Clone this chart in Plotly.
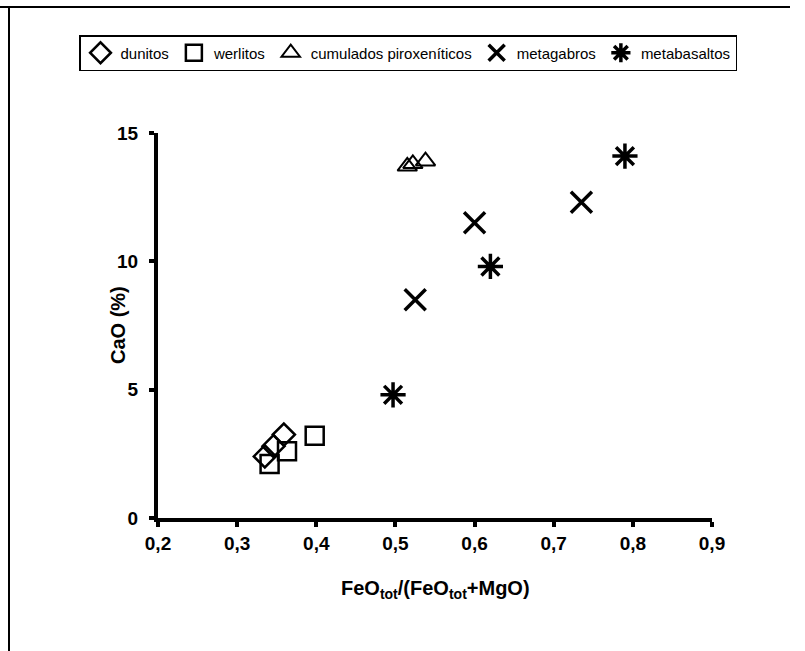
import plotly.graph_objects as go

# Data
dunitos_x = [0.335, 0.346, 0.359]
dunitos_y = [2.4, 2.8, 3.25]
werlitos_x = [0.341, 0.363, 0.398]
werlitos_y = [2.1, 2.6, 3.2]
cumulados_x = [0.515, 0.522, 0.538]
cumulados_y = [13.7, 13.8, 13.9]
metagabros_x = [0.525, 0.600, 0.735]
metagabros_y = [8.5, 11.5, 12.3]
metabasaltos_x = [0.497, 0.620, 0.790]
metabasaltos_y = [4.8, 9.8, 14.1]

x_ticks = [0.2, 0.3, 0.4, 0.5, 0.6, 0.7, 0.8, 0.9]
y_ticks = [0, 5, 10, 15]

FONT = "Liberation Sans, Arial, sans-serif"
W, H = 805, 651
L, R, T, B = 158, 93, 133, 133
PW, PH = W - L - R, H - T - B

def px_x(p):
    return (p - L) / PW

def px_y(p):
    return (H - B - p) / PH

fig = go.Figure()

def add(name, xs, ys, symbol, size, lw):
    fig.add_trace(go.Scatter(
        x=xs, y=ys, mode="markers", name=name, cliponaxis=False,
        marker=dict(symbol=symbol, size=size, color="black",
                    line=dict(color="black", width=lw)),
    ))

add("dunitos", dunitos_x, dunitos_y, "diamond-open", 17, 2.5)
add("werlitos", werlitos_x, werlitos_y, "square-open", 18, 2.5)
add("cumulados piroxeníticos", cumulados_x, cumulados_y, "triangle-up-open", 17, 2)
add("metagabros", metagabros_x, metagabros_y, "x-thin-open", 21, 3.5)
add("metabasaltos", metabasaltos_x, metabasaltos_y, "asterisk-open", 21, 3.5)

fig.update_layout(
    width=W, height=H,
    margin=dict(l=L, r=R, t=T, b=B, autoexpand=False),
    paper_bgcolor="white", plot_bgcolor="white",
    separators=", ",
    font=dict(family=FONT, color="black", size=15),
    showlegend=True,
    legend=dict(
        orientation="h", x=px_x(79), y=px_y(35), xref="paper", yref="paper",
        xanchor="left", yanchor="top",
        bordercolor="black", borderwidth=1.5, bgcolor="white",
        font=dict(family=FONT, size=15, color="black"),
        itemwidth=30, tracegroupgap=0,
    ),
    xaxis=dict(
        range=[0.2, 0.9], tickvals=x_ticks, tickformat=".1f",
        showline=True, linecolor="black", linewidth=4,
        ticks="outside", ticklen=5, tickwidth=4, tickcolor="black",
        showgrid=False, zeroline=False,
        tickfont=dict(family=FONT, size=19, color="black", weight="bold"),
    ),
    yaxis=dict(
        range=[0, 15], tickvals=y_ticks,
        showline=True, linecolor="black", linewidth=4,
        ticks="outside", ticklen=5, tickwidth=4, tickcolor="black",
        ticklabelstandoff=7,
        showgrid=False, zeroline=False,
        tickfont=dict(family=FONT, size=19, color="black", weight="bold"),
    ),
    annotations=[
        dict(text="FeO<sub>tot</sub>/(FeO<sub>tot</sub>+MgO)", xref="paper", yref="paper",
             x=px_x(435), y=px_y(589), xanchor="center", yanchor="middle",
             showarrow=False,
             font=dict(family=FONT, size=20, color="black", weight="bold")),
        dict(text="CaO (%)", xref="paper", yref="paper", textangle=-90,
             x=px_x(118), y=px_y(325), xanchor="center", yanchor="middle",
             showarrow=False,
             font=dict(family=FONT, size=20, color="black", weight="bold")),
    ],
    shapes=[
        dict(type="line", xref="paper", yref="paper",
             x0=px_x(0), x1=px_x(790), y0=px_y(7), y1=px_y(7),
             line=dict(color="black", width=2)),
        dict(type="line", xref="paper", yref="paper",
             x0=px_x(9), x1=px_x(9), y0=px_y(7), y1=px_y(660),
             line=dict(color="black", width=2)),
    ],
)

fig.write_html("out.html", config={"displayModeBar": False},
               post_script="document.body.style.margin='0px';"
                           "document.body.style.overflow='hidden';")
